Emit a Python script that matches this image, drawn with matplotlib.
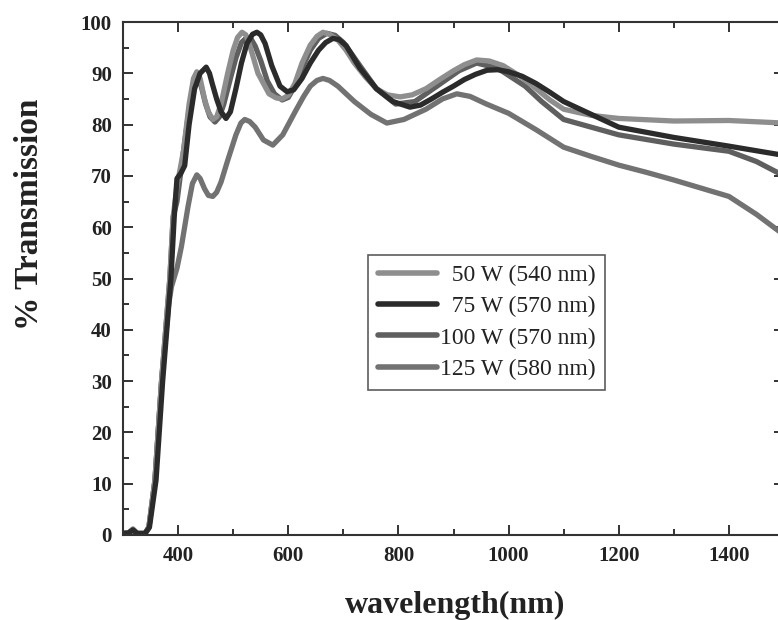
import numpy as np
import matplotlib.pyplot as plt
from matplotlib.ticker import MultipleLocator

# ---- Data (wavelength in nm, % transmission)
wl_50w = [300, 310, 318, 326, 340, 347, 358, 370, 385, 391, 398, 410, 420, 428,
          434, 440, 448, 455, 463, 470, 478, 490, 500, 508, 516, 523, 530, 545,
          565, 578, 589, 600, 612, 625, 640, 652, 663, 675, 690, 705, 720, 740,
          760, 780, 803, 825, 850, 875, 900, 920, 942, 965, 990, 1020, 1050,
          1075, 1100, 1150, 1200, 1300, 1400, 1500]
t_50w = [0.3, 0.4, 1.2, 0.3, 0.3, 1.5, 10.7, 30, 50, 62, 68, 75, 84, 89,
         90.3, 89, 85, 82.5, 81, 81.5, 84, 90, 94.5, 97, 98, 97.5, 95.5, 90,
         86, 85.2, 85, 85.7, 88, 92, 95.5, 97.2, 98, 97.6, 96.5, 94.5, 92, 89.3,
         87, 85.8, 85.4, 85.8, 87, 88.8, 90.5, 91.7, 92.6, 92.4, 91.5, 89.5, 87,
         84.8, 83, 81.8, 81.2, 80.7, 80.8, 80.3]

wl_75w = [300, 310, 318, 326, 340, 348, 360, 372, 387, 393, 398, 405, 412, 420,
          430, 440, 451, 457, 462, 470, 478, 487, 495, 505, 515, 525, 535, 543,
          550, 558, 570, 585, 598, 610, 625, 640, 655, 668, 681, 692, 705, 730,
          760, 790, 821, 840, 860, 880, 900, 920, 940, 961, 980, 1000, 1025,
          1050, 1075, 1100, 1150, 1200, 1300, 1400, 1500]
t_75w = [0.3, 0.4, 1.0, 0.3, 0.3, 1.5, 10.7, 30, 50, 62, 69.5, 70.5, 72, 80,
         87, 90, 91.2, 90, 88, 85, 82.5, 81.2, 82.5, 87, 92, 95.8, 97.6, 98,
         97.5, 95.8, 91.5, 87.5, 86.4, 86.8, 89, 92, 94.5, 96, 96.8, 96.6, 95.4, 91,
         87, 84.5, 83.4, 83.8, 85, 86.3, 87.5, 88.8, 89.8, 90.6, 90.7, 90.3, 89.4,
         88, 86.3, 84.5, 82, 79.5, 77.5, 75.8, 74]

wl_100w = [300, 310, 318, 326, 340, 347, 358, 370, 385, 391, 398, 410, 420, 430,
           436, 442, 450, 458, 467, 475, 483, 495, 505, 515, 525, 533, 540, 550,
           562, 575, 589, 600, 612, 625, 640, 655, 670, 685, 700, 715, 730, 760,
           795, 830, 870, 910, 942, 980, 1030, 1060, 1100, 1150, 1200, 1300, 1400,
           1450, 1500]
t_100w = [0.3, 0.4, 1.0, 0.3, 0.3, 1.5, 10.7, 30, 50, 62, 65, 75, 83, 88,
          88.7, 87.5, 84, 81.5, 80.5, 81.5, 84, 89, 93, 96, 97, 96.6, 95.3, 92.5,
          88.5, 86, 84.8, 85.3, 87.5, 91, 94.5, 96.8, 97.8, 97.4, 96, 93.8, 91.5, 87,
          84, 84.5, 87.5, 90.5, 92, 91, 87.5, 84.5, 81, 79.5, 78, 76.2, 74.8,
          72.8, 70]

wl_125w = [300, 310, 318, 326, 340, 347, 358, 370, 383, 388, 398, 406, 418, 426,
           434, 440, 448, 455, 463, 470, 478, 490, 505, 514, 521, 530, 540, 555,
           572, 590, 605, 615, 628, 640, 652, 663, 675, 690, 705, 720, 750, 779,
           810, 850, 880, 906, 930, 960, 1000, 1050, 1100, 1150, 1200, 1250, 1300,
           1350, 1400, 1450, 1500]
t_125w = [0.3, 0.4, 1.0, 0.3, 0.3, 1.5, 10.7, 30, 45, 48.4, 52, 56.2, 64, 68.5,
          70.2, 69.5, 67.5, 66.2, 66, 66.8, 68.8, 73, 78, 80.3, 81, 80.6, 79.5, 77,
          76, 78, 81, 83, 85.5, 87.5, 88.6, 89, 88.6, 87.5, 86, 84.5, 82, 80.3,
          81, 83, 85, 86, 85.5, 84, 82.2, 79, 75.6, 73.8, 72.1, 70.7, 69.2,
          67.6, 66, 62.5, 58.5]

labels = ["  50 W (540 nm)", "  75 W (570 nm)", "100 W (570 nm)", "125 W (580 nm)"]
colors = ["#8e8e8e", "#2b2b2b", "#5f5f5f", "#727272"]

x_ticks = [400, 600, 800, 1000, 1200, 1400]
y_ticks = list(range(0, 101, 10))

plt.rcParams["font.family"] = ["Liberation Serif", "DejaVu Serif"]

fig = plt.figure(figsize=(7.78, 6.2), dpi=100)
# right spine sits just past the edge of the scanned page
ax = fig.add_axes([123 / 778, 85 / 620, 661 / 778, 513 / 620])

series = [(wl_50w, t_50w), (wl_75w, t_75w), (wl_100w, t_100w), (wl_125w, t_125w)]
handles = [None] * 4
for i in [3, 2, 0, 1]:
    wl, t = series[i]
    (line,) = ax.plot(wl, t, color=colors[i], linewidth=3.8,
                      solid_joinstyle="round", solid_capstyle="round")
    handles[i] = line

ax.set_xlim(300, 1500)
ax.set_ylim(0, 100)
ax.set_xticks(x_ticks)
ax.set_yticks(y_ticks)
ax.xaxis.set_minor_locator(MultipleLocator(100))
ax.yaxis.set_minor_locator(MultipleLocator(5))

ax.tick_params(which="both", direction="in", top=True, right=True,
               width=1.4, color="#333333")
ax.tick_params(which="major", length=7, pad=8, labelsize=15)
ax.tick_params(which="minor", length=4)
for lab in ax.get_xticklabels() + ax.get_yticklabels():
    lab.set_fontweight("bold")
    lab.set_color("#222222")
for sp in ax.spines.values():
    sp.set_linewidth(1.5)
    sp.set_color("#333333")

leg = ax.legend(handles, labels, loc="upper left",
                bbox_to_anchor=(0.371, 0.546), frameon=True, fancybox=False,
                fontsize=17, handlelength=2.5, handletextpad=0.12,
                labelspacing=0.42, borderpad=0.4, borderaxespad=0)
leg.get_frame().set_edgecolor("#333333")
leg.get_frame().set_linewidth(1.2)
for h in leg.legend_handles:
    h.set_linewidth(4)
for txt in leg.get_texts():
    txt.set_color("#222222")

fig.text(455 / 778, 1 - 605 / 620, "wavelength(nm)", ha="center", va="center",
         fontsize=23, fontweight="bold", color="#222222")
fig.text(30 / 778, 1 - 214 / 620, "% Transmission", ha="center", va="center",
         rotation=90, fontsize=24, fontweight="bold", color="#222222")

fig.savefig("out.png", dpi=100)
